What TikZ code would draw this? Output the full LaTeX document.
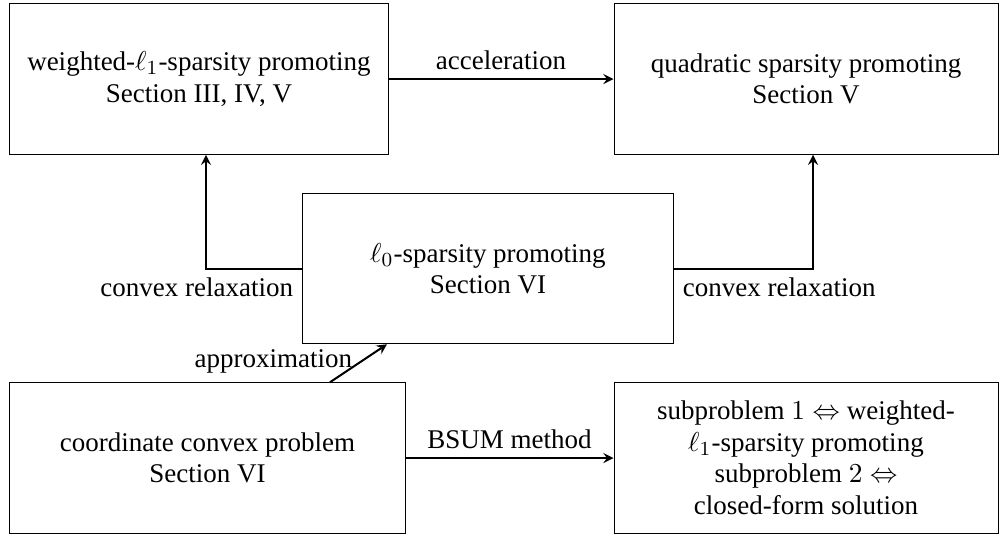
\documentclass[tikz,border=0pt]{standalone}
\usepackage{fontspec}
\setmainfont{Liberation Serif}
\usetikzlibrary{positioning}

\tikzset{
  block/.style={draw, line width=0.4pt, align=center, minimum height=60.2pt, inner sep=2pt},
  link/.style={->, >=stealth, line width=0.8pt}
}

\begin{document}
\begin{tikzpicture}[x=0.4pt,y=-0.4pt,font=\fontsize{10.8}{12.6}\selectfont]
  \useasboundingbox (0,0) rectangle (1001,536);

  \node[block, minimum width=151.2pt] (weighted) at (199,79)
    {weighted-$\ell_1$-sparsity promoting\\ Section III, IV, V};
  \node[block, minimum width=153.6pt] (quadratic) at (806,79)
    {quadratic sparsity promoting\\ Section V};
  \node[block, minimum width=148pt] (lzero) at (488,268.5)
    {$\ell_0$-sparsity promoting\\ Section VI};
  \node[block, minimum width=158pt] (coord) at (207.5,458)
    {coordinate convex problem\\ Section VI};
  \node[block, minimum width=153.6pt] (bsum) at (806,458)
    {subproblem $1\Leftrightarrow$ weighted-\\ $\ell_1$-sparsity promoting\\
     subproblem $2\Leftrightarrow$\\ closed-form solution};

  \draw[link] (weighted) -- node[above] {acceleration} (quadratic);
  \draw[link] (lzero.west) -- node[pos=0, below left] {convex relaxation} (206,268.5) -- (weighted.south -| 206,0);
  \draw[link] (lzero.east) -- node[pos=0, below right] {convex relaxation} (813,268.5) -- (quadratic.south -| 813,0);
  \draw[link] (coord.north -| 330,0) -- node[left, pos=0.55] {approximation} (lzero.south -| 387,0);
  \draw[link] (coord) -- node[above] {BSUM method} (bsum);
\end{tikzpicture}
\end{document}
